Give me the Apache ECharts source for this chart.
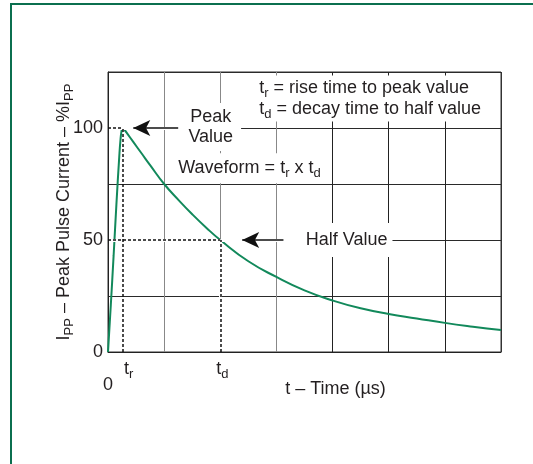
<!DOCTYPE html>
<html>
<head>
<meta charset="utf-8">
<script src="https://cdn.jsdelivr.net/npm/echarts@6/dist/echarts.min.js"></script>
<style>
  html, body { margin: 0; padding: 0; background: #fff; }
  #chart { width: 533px; height: 464px; }
</style>
</head>
<body>
<div id="chart"></div>
<script>
// pulse waveform: time in grid divisions, current in % of Ipp
var timeValues = [0, 0.05, 0.1, 0.15, 0.2, 0.22, 0.24, 0.26, 0.3, 0.35, 0.45, 0.6, 0.75, 1, 1.25, 1.5, 1.75, 2, 2.5, 3, 3.5, 4, 4.5, 5, 5.5, 6, 6.5, 7];
var currentValues = [0, 21, 43, 66, 87, 94, 98.5, 100, 99, 97.3, 93.8, 88.6, 83.4, 75, 68, 61.5, 55.5, 50, 40.5, 33.5, 27.5, 23, 19.5, 17, 15, 13, 11.3, 9.8];

var yTickLabels = [0, 50, 100];
var xTickLabels = ["0"];

var riseTime = 0.26;
var decayTime = 2;
var peakValue = 100;
var halfValue = 50;

var font = "'Liberation Sans', Arial, Helvetica, sans-serif";
var ink = "#231f20";
var sub = { s: { fontSize: 13, lineHeight: 10, padding: [11, 0, 0, 0] } };

var chart = echarts.init(document.getElementById("chart"));

chart.setOption({
  animation: false,
  textStyle: { fontFamily: font },
  graphic: [
    {
      // green frame, only top and left edges are in view
      type: "rect",
      silent: true,
      shape: { x: 11, y: 4, width: 700, height: 700 },
      style: { fill: null, stroke: "#0b6f4f", lineWidth: 2 }
    }
  ],
  grid: {
    left: 108,
    right: 32,
    top: 72,
    bottom: 112,
    show: true,
    borderColor: "#333",
    borderWidth: 1
  },
  xAxis: {
    type: "value",
    min: 0,
    max: 7,
    interval: 1,
    name: "t – Time (µs)",
    nameLocation: "middle",
    nameMoveOverlap: false,
    nameGap: 37,
    nameTextStyle: { fontSize: 18, color: ink, padding: [0, 0, 0, 62], verticalAlign: "middle" },
    axisLine: { show: true, lineStyle: { color: "#222" } },
    axisTick: { show: false },
    axisLabel: {
      fontSize: 18,
      color: ink,
      margin: 24,
      formatter: function (v) {
        return xTickLabels.indexOf(String(v)) >= 0 ? String(v) : "";
      }
    },
    splitLine: {
      show: true,
      lineStyle: {
        color: ["#333", "#888", "#888", "#888", "#222", "#222", "#222", "#333"]
      }
    }
  },
  yAxis: {
    type: "value",
    min: 0,
    max: 125,
    interval: 25,
    name: "I{s|PP} – Peak Pulse Current – %I{s|PP}",
    nameLocation: "middle",
    nameMoveOverlap: false,
    nameRotate: 90,
    nameGap: 34,
    nameTextStyle: { fontSize: 18, color: ink, lineHeight: 20, rich: sub },
    axisLine: { show: true, lineStyle: { color: "#222" } },
    axisTick: { show: false },
    axisLabel: {
      fontSize: 18,
      color: ink,
      margin: 5,
      formatter: function (v) {
        return yTickLabels.indexOf(v) >= 0 ? String(v) : "";
      }
    },
    splitLine: { show: true, lineStyle: { color: "#2a2a2a" } }
  },
  series: [
    {
      // white strokes that clear the grid under the guide lines
      type: "line",
      z: 1,
      data: [],
      silent: true,
      markLine: {
        silent: true,
        symbol: "none",
        label: { show: false },
        lineStyle: { color: "#fff", width: 3, type: "solid" },
        data: [
          [{ coord: [0.02, peakValue] }, { coord: [1.3, peakValue] }],
          [{ coord: [0.02, halfValue] }, { coord: [3.5, halfValue] }],
          [{ coord: [decayTime, 0.5] }, { coord: [decayTime, halfValue] }]
        ]
      }
    },
    {
      type: "line",
      z: 3,
      data: timeValues.map(function (t, i) { return [t, currentValues[i]]; }),
      smooth: true,
      showSymbol: false,
      lineStyle: { color: "#12895b", width: 2 },
      markLine: {
        silent: true,
        symbol: "none",
        label: { show: false },
        lineStyle: { color: "#111", width: 1.5, type: [3, 2] },
        data: [
          [{ coord: [0, peakValue] }, { coord: [riseTime, peakValue] }],
          [{ coord: [riseTime, 0] }, { coord: [riseTime, peakValue] }],
          [{ coord: [0, halfValue] }, { coord: [decayTime, halfValue] }],
          [{ coord: [decayTime, 0] }, { coord: [decayTime, halfValue] }],
          [
            { coord: [1.25, peakValue], symbol: "none", lineStyle: { type: "solid", width: 1.5, color: "#111" } },
            { coord: [0.45, peakValue], symbol: "arrow", symbolSize: [12, 17] }
          ],
          [
            { coord: [3.125, halfValue], symbol: "none", lineStyle: { type: "solid", width: 1.5, color: "#111" } },
            { coord: [2.39, halfValue], symbol: "arrow", symbolSize: [12, 17] }
          ]
        ]
      },
      markPoint: {
        silent: true,
        symbol: "rect",
        symbolSize: 1,
        itemStyle: { color: "rgba(0,0,0,0)" },
        label: {
          show: true,
          position: "inside",
          fontSize: 18,
          color: ink,
          lineHeight: 20,
          rich: sub
        },
        data: [
          {
            coord: [1.83, 100.5],
            label: { formatter: "Peak\nValue", backgroundColor: "#fff", padding: [4, 8] }
          },
          {
            coord: [2.52, 82],
            label: { formatter: "Waveform = t{s|r} x t{s|d}", backgroundColor: "#fff", padding: [5, 2] }
          },
          {
            coord: [2.55, 113.2],
            label: {
              formatter: "t{s|r} = rise time to peak value\nt{s|d} = decay time to half value",
              align: "left",
              lineHeight: 21,
              backgroundColor: "#fff",
              padding: [2, 8]
            }
          },
          {
            coord: [4.25, halfValue],
            label: { formatter: "Half Value", backgroundColor: "#fff", padding: [7, 5] }
          },
          { coord: [riseTime, 0], label: { formatter: "t{s|r}", offset: [6, 17] } },
          { coord: [decayTime, 0], label: { formatter: "t{s|d}", offset: [2, 17] } }
        ]
      }
    }
  ]
});
</script>
</body>
</html>
